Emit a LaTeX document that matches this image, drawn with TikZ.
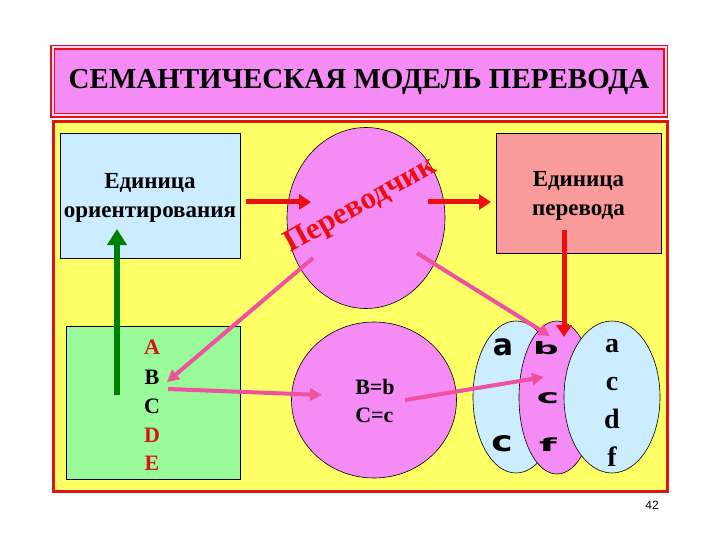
\documentclass[tikz,border=0pt]{standalone}
\usepackage{fontspec}
\setmainfont{Liberation Serif}
\newfontfamily\heavysans{DejaVu Sans}
\newfontfamily\pagesans{Liberation Sans}
\usetikzlibrary{arrows.meta,shapes.geometric}
\definecolor{titlePink}{RGB}{245,140,245}
\definecolor{panelYellow}{RGB}{255,255,102}
\definecolor{boxBlue}{RGB}{204,236,255}
\definecolor{boxSalmon}{RGB}{250,155,155}
\definecolor{boxGreen}{RGB}{153,250,153}
\definecolor{frameRed}{RGB}{225,20,20}
\definecolor{arrRed}{RGB}{235,15,15}
\definecolor{arrPink}{RGB}{240,80,160}
\definecolor{arrGreen}{RGB}{0,128,0}
\definecolor{letterRed}{RGB}{215,20,20}
\newcommand{\squash}[3]{\scalebox{#1}[#2]{#3}}

\begin{document}
\begin{tikzpicture}[
  x=1pt, y=-1pt,
  titlebox/.style={
    draw=frameRed,
    line width=1.5pt,
    double=titlePink!40!white,
    double distance=2pt,
    fill=titlePink,
    minimum width=613pt,
    minimum height=68pt,
    font=\bfseries\fontsize{29}{32}\selectfont,
  },
  unitbox/.style={
    draw=black,
    line width=0.8pt,
    align=center,
    inner sep=0pt,
    font=\bfseries\fontsize{23}{29}\selectfont,
  },
  bubble/.style={
    ellipse,
    draw=black,
    line width=0.6pt,
    inner sep=0pt,
  },
  bigletter/.style={
    font=\bfseries\fontsize{22}{26}\selectfont,
    anchor=base,
  },
  rightletter/.style={
    font=\bfseries\fontsize{28}{32}\selectfont,
    anchor=base,
  },
  flatletter/.style={
    font=\heavysans\bfseries\fontsize{30}{32}\selectfont,
    inner sep=0pt,
  },
  redarr/.style={
    -{Triangle[length=12pt,width=15pt]},
    arrRed,
    line width=5pt,
  },
  pinkarr/.style={
    -{Triangle[length=12pt,width=12pt]},
    arrPink,
    line width=4pt,
  },
]
  \useasboundingbox (0,0) rectangle (720,540);

  \node[titlebox] (title) at (359,81.5)
    {СЕМАНТИЧЕСКАЯ МОДЕЛЬ ПЕРЕВОДА};

  \node[draw=frameRed, line width=3pt, fill=panelYellow,
        minimum width=614pt, minimum height=369pt] (panel) at (360,306.5) {};

  % upper row
  \node[unitbox, fill=boxBlue, minimum width=180pt, minimum height=125pt,
        text depth=-6pt]
    (orient) at (150,195.5) {Единица\\ориентирования};
  \node[bubble, fill=titlePink, minimum width=158pt, minimum height=181pt]
    (translator) at (366,218) {};
  \node[text=arrRed, inner sep=0pt, font=\bfseries\fontsize{31}{34}\selectfont,
        rotate=29]
    (trword) at (361,206) {Переводчик};
  \node[unitbox, fill=boxSalmon, minimum width=165pt, minimum height=120pt,
        text depth=-6pt]
    (tunit) at (578.5,193) {Единица\\перевода};

  % lower row
  \node[unitbox, fill=boxGreen, minimum width=174pt, minimum height=153pt]
    (source) at (153,402.5) {};
  \node[bigletter, text=letterRed] (lA) at (152,354) {A};
  \node[bigletter] (lB) at (152,384) {B};
  \node[bigletter] (lC) at (152,413) {C};
  \node[bigletter, text=letterRed] (lD) at (152,442) {D};
  \node[bigletter, text=letterRed] (lE) at (152,470) {E};

  \node[bubble, fill=titlePink, minimum width=165pt, minimum height=156pt]
    (match) at (374,400) {};
  \node[align=left, font=\bfseries\fontsize{22}{28}\selectfont]
    (eqs) at (375,401) {B=b\\C=c};

  \node[bubble, fill=boxBlue, minimum width=86pt, minimum height=152pt]
    (setA) at (516,397) {};
  \node[bubble, fill=titlePink, minimum width=76pt, minimum height=153pt]
    (setB) at (557,397.5) {};
  \node[bubble, fill=boxBlue, minimum width=96pt, minimum height=152pt]
    (setC) at (612,397) {};

  \node[flatletter] (fa) at (503,347) {a};
  \node[flatletter] (fc) at (502,444) {\squash{1.2}{0.95}{c}};
  \node[flatletter] (fb) at (546,348) {\squash{1.2}{0.57}{b}};
  \node[flatletter] (fc2) at (548,398) {\squash{1.25}{0.65}{c}};
  \node[flatletter] (ff) at (548,445) {\squash{1.35}{0.6}{f}};

  \node[rightletter] (ra) at (612,352) {a};
  \node[rightletter] (rc) at (612,390) {c};
  \node[rightletter] (rd) at (612,428) {d};
  \node[rightletter] (rf) at (612,466) {f};

  \node[font=\pagesans\fontsize{12}{14}\selectfont] (pagenum) at (652,505) {42};

  % arrows
  \coordinate (r1s) at (246,202);
  \coordinate (r1e) at (311,202);
  \coordinate (r2s) at (428,202);
  \coordinate (r2e) at (491,202);
  \coordinate (r3s) at (564,230);
  \coordinate (r3e) at (564,337);
  \coordinate (g1s) at (117,395);
  \coordinate (g1e) at (117,229);
  \coordinate (p1s) at (313,258);
  \coordinate (p1e) at (167,382);
  \coordinate (p2s) at (168,389);
  \coordinate (p2e) at (322,395);
  \coordinate (p3s) at (417,253);
  \coordinate (p3e) at (550,336);
  \coordinate (p4s) at (405,400);
  \coordinate (p4e) at (544,377);

  \draw[redarr] (r1s) -- (r1e);
  \draw[redarr] (r2s) -- (r2e);
  \draw[redarr] (r3s) -- (r3e);
  \draw[-{Triangle[length=16pt,width=19pt]}, arrGreen, line width=6pt]
    (g1s) -- (g1e);
  \draw[pinkarr] (p1s) -- (p1e);
  \draw[pinkarr] (p2s) -- (p2e);
  \draw[pinkarr] (p3s) -- (p3e);
  \draw[pinkarr] (p4s) -- (p4e);

\end{tikzpicture}
\end{document}
